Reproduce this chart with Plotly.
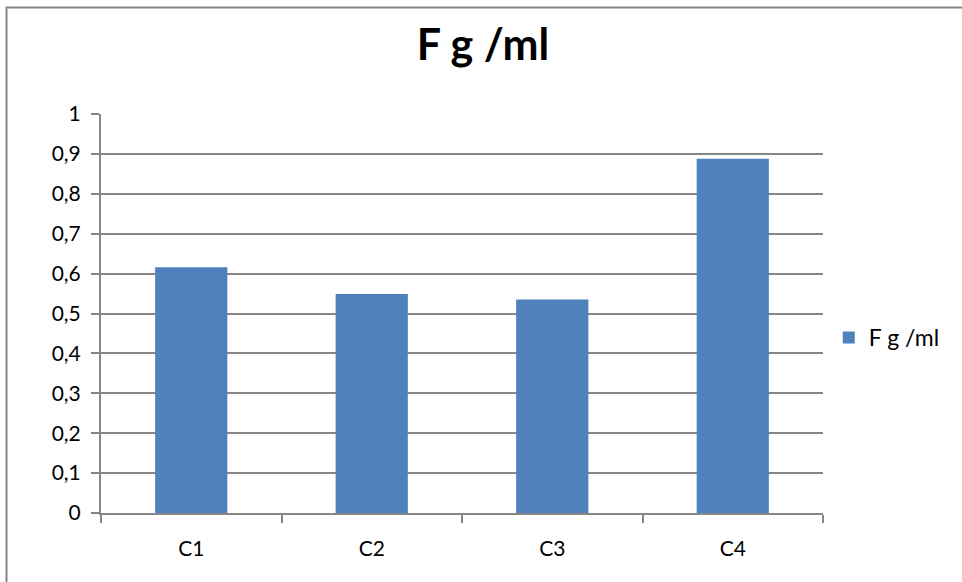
import plotly.graph_objects as go

categories = ["C1", "C2", "C3", "C4"]
values = [0.616, 0.549, 0.535, 0.888]
series_name = "F g /ml"
y_ticks = [0, 0.1, 0.2, 0.3, 0.4, 0.5, 0.6, 0.7, 0.8, 0.9, 1]
y_tick_labels = ["0", "0,1", "0,2", "0,3", "0,4", "0,5", "0,6", "0,7", "0,8", "0,9", "1"]

W, H = 962, 582
L, R, T, B = 101, 139, 114, 69

fig = go.Figure()
fig.add_trace(go.Bar(
    x=categories, y=values, name=series_name,
    marker=dict(color="#4F81BD", line=dict(width=0)),
    showlegend=True,
))

font_family = "Lato, 'Open Sans', sans-serif"
fig.update_layout(
    width=W, height=H,
    margin=dict(l=L, r=R, t=T, b=B, pad=0),
    paper_bgcolor="white", plot_bgcolor="white",
    bargap=0.6,
    title=dict(text="<b>F g /ml</b>", x=483 / W, xanchor="center",
               y=1 - 45 / H, yanchor="middle",
               font=dict(family=font_family, size=43, color="black")),
    font=dict(family=font_family, size=21, color="black"),
    showlegend=True,
    legend=dict(x=1.008, y=0.44, xanchor="left", yanchor="middle",
                font=dict(size=23, color="black"), bgcolor="rgba(0,0,0,0)",
                itemwidth=30),
    xaxis=dict(showgrid=False, showline=True, linecolor="#868686", linewidth=2,
               ticks="outside", ticklen=8, tickcolor="#868686", tickwidth=2,
               tickson="boundaries", tickfont=dict(size=21), ticklabelstandoff=16),
    yaxis=dict(range=[0, 1], tickvals=y_ticks, ticktext=y_tick_labels,
               showgrid=True, gridcolor="#868686", gridwidth=2,
               showline=True, linecolor="#868686", linewidth=2,
               ticks="outside", ticklen=8, tickcolor="#868686", tickwidth=2,
               tickfont=dict(size=21), ticklabelstandoff=6, zeroline=False),
    shapes=[dict(type="rect", xref="paper", yref="paper",
                 x0=(6.5 - L) / (W - L - R), x1=(W + 10 - L) / (W - L - R),
                 y0=-(B + 10) / (H - T - B), y1=(H - 7.5 - B) / (H - T - B),
                 line=dict(color="#868686", width=2), fillcolor="rgba(0,0,0,0)",
                 layer="below")],
)

fig.write_html("out.html")
